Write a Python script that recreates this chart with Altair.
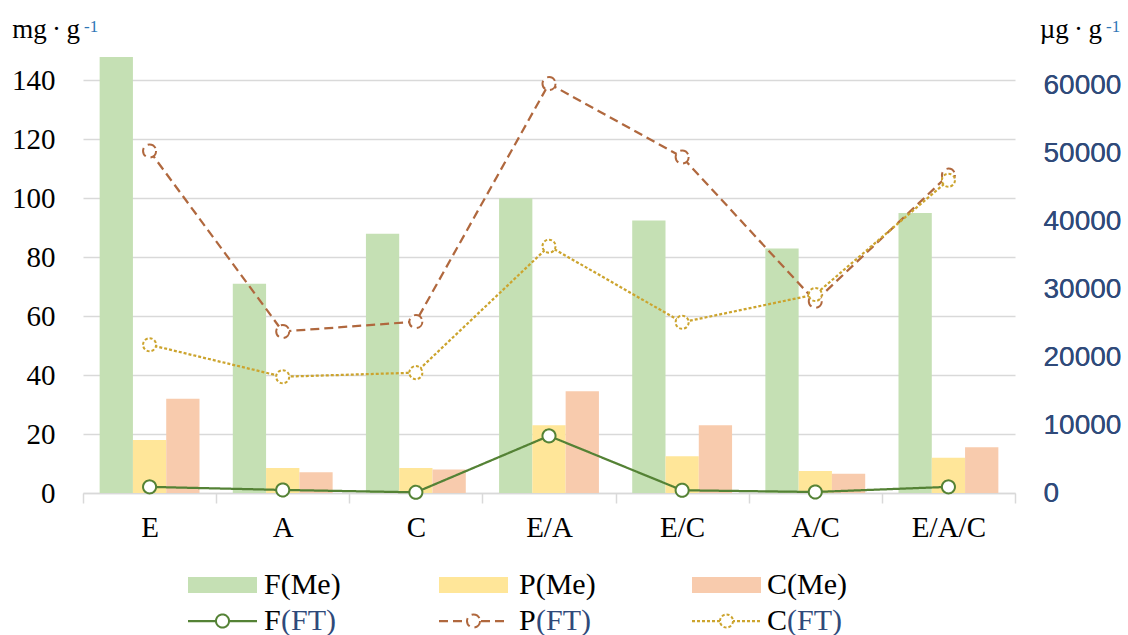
import altair as alt
import pandas as pd

# Treatments on the x axis
categories = ["E", "A", "C", "E/A", "E/C", "A/C", "E/A/C"]

# Bar series, left axis (mg·g-1)
bar_series = ["F(Me)", "P(Me)", "C(Me)"]
f_me = [148, 71, 88, 100, 92.5, 83, 95]
p_me = [18, 8.5, 8.5, 23, 12.5, 7.5, 12]
c_me = [32, 7, 8, 34.5, 23, 6.5, 15.5]

# Line series, right axis (µg·g-1)
line_series = ["F(FT)", "P(FT)", "C(FT)"]
f_ft = [900, 450, 100, 8400, 400, 150, 900]
p_ft = [50300, 23750, 25200, 60200, 49400, 28200, 46750]
c_ft = [21800, 17100, 17700, 36300, 25100, 29200, 46000]

left_ticks = [0, 20, 40, 60, 80, 100, 120, 140]
right_ticks = [0, 10000, 20000, 30000, 40000, 50000, 60000]

SERIF = "Liberation Serif"
SANS = "Liberation Sans"
BAR_COLORS = ["#C5E0B4", "#FFE699", "#F8CBAD"]
LINE_COLORS = ["#548235", "#B0683E", "#CCA42E"]
LINE_DASHES = [[1, 0], [9, 5], [3, 2]]
NAVY = "#2F4A7A"
SUP_BLUE = "#2E75B6"

W, H = 932, 442

bars_df = pd.DataFrame(
    [
        {"cat": c, "series": s, "value": v}
        for s, vals in zip(bar_series, [f_me, p_me, c_me])
        for c, v in zip(categories, vals)
    ]
)
lines_df = pd.DataFrame(
    [
        {"cat": c, "series": s, "ft": v}
        for s, vals in zip(line_series, [f_ft, p_ft, c_ft])
        for c, v in zip(categories, vals)
    ]
)

x_enc = alt.X(
    "cat:N",
    sort=categories,
    scale=alt.Scale(paddingInner=0, paddingOuter=0),
    axis=alt.Axis(
        title=None,
        labelAngle=0,
        labelFont=SERIF,
        labelFontSize=29,
        labelColor="#000000",
        domainColor="#D9D9D9",
        domainWidth=1.5,
        tickColor="#D9D9D9",
        tickWidth=1.5,
        tickSize=10,
        tickBand="extent",
        labelPadding=10,
        grid=False,
    ),
)

bars = (
    alt.Chart(bars_df)
    .mark_bar(opacity=1)
    .encode(
        x=x_enc,
        xOffset=alt.XOffset(
            "series:N",
            sort=bar_series,
            scale=alt.Scale(paddingInner=0, paddingOuter=0.5),
        ),
        y=alt.Y(
            "value:Q",
            scale=alt.Scale(domain=[0, 150], nice=False, zero=True),
            axis=alt.Axis(
                title=None,
                values=left_ticks,
                grid=True,
                gridColor="#D9D9D9",
                gridWidth=1.5,
                domain=False,
                ticks=False,
                labelFont=SERIF,
                labelFontSize=29,
                labelColor="#000000",
                labelPadding=28,
            ),
        ),
        color=alt.Color(
            "series:N",
            sort=bar_series,
            scale=alt.Scale(domain=bar_series, range=BAR_COLORS),
            legend=None,
        ),
    )
)

right_scale = alt.Scale(domain=[0, 65000], nice=False, zero=True)
line_color = alt.Color(
    "series:N",
    scale=alt.Scale(domain=line_series, range=LINE_COLORS),
    legend=None,
)
line_dash = alt.StrokeDash(
    "series:N",
    scale=alt.Scale(domain=line_series, range=LINE_DASHES),
    legend=None,
)

base = alt.Chart(lines_df).encode(
    x=alt.X("cat:N", sort=categories),
    y=alt.Y(
        "ft:Q",
        scale=right_scale,
        axis=alt.Axis(
            title=None,
            orient="right",
            values=right_ticks,
            format="d",
            grid=False,
            domain=False,
            ticks=False,
            labelFont=SANS,
            labelFontSize=28,
            labelColor=NAVY,
            labelPadding=28,
        ),
    ),
    color=line_color,
    strokeDash=line_dash,
)
lines = base.mark_line(strokeWidth=2.25)
markers = base.mark_point(
    shape="circle", size=170, filled=False, fill="white", fillOpacity=1, strokeWidth=2, opacity=1
)

# Unit captions above both axes and the two-row legend under the plot
one = pd.DataFrame({"k": [0]})


def label(text, x, y, size, color="#000000", font=SERIF, align="left", baseline="alphabetic"):
    return (
        alt.Chart(one)
        .mark_text(text=text, font=font, fontSize=size, color=color, align=align, baseline=baseline)
        .encode(x=alt.value(x), y=alt.value(y))
    )


decor = [
    label("mg\u2009·\u2009g", -3, -13, 27, align="right"),
    label("-1", 1, -19, 17, SUP_BLUE),
    label("µg\u2009·\u2009g", 1019, -13, 27, align="right"),
    label("-1", 1023, -19, 17, SUP_BLUE),
]

swatch_x = [105, 356, 609]
swatch_w = 69
text_x = [181, 436, 684]
ft_x = [198, 453, 704]
row1_y, row2_y = 534, 570
LEG_SIZE = 30
for i in range(3):
    decor.append(
        alt.Chart(one)
        .mark_rect(color=BAR_COLORS[i])
        .encode(x=alt.value(swatch_x[i]), x2=alt.value(swatch_x[i] + swatch_w),
                y=alt.value(row1_y - 8), y2=alt.value(row1_y + 8))
    )
    decor.append(label(bar_series[i], text_x[i], row1_y, LEG_SIZE, baseline="middle"))
    decor.append(
        alt.Chart(one)
        .mark_rule(color=LINE_COLORS[i], strokeWidth=2.25, strokeDash=LINE_DASHES[i])
        .encode(x=alt.value(swatch_x[i]), x2=alt.value(swatch_x[i] + swatch_w), y=alt.value(row2_y))
    )
    decor.append(
        alt.Chart(one)
        .mark_point(shape="circle", size=170, filled=False, fill="white", fillOpacity=1, strokeWidth=2,
                    color=LINE_COLORS[i], strokeDash=LINE_DASHES[i], opacity=1)
        .encode(x=alt.value(swatch_x[i] + swatch_w / 2), y=alt.value(row2_y))
    )
    decor.append(label(line_series[i][0], text_x[i], row2_y, LEG_SIZE, baseline="middle"))
    decor.append(label(line_series[i][1:], ft_x[i], row2_y, LEG_SIZE, NAVY, baseline="middle"))

chart = (
    alt.layer(bars, lines, markers, *decor)
    .resolve_scale(y="independent", color="independent", strokeDash="independent")
    .properties(
        width=W,
        height=H,
        padding={"left": 83, "top": 51, "right": 113, "bottom": 142},
        autosize=alt.AutoSizeParams(type="none"),
        background="white",
    )
    .configure_view(stroke=None)
)

chart.save("out.html", embed_options={"renderer": "svg", "actions": False})
